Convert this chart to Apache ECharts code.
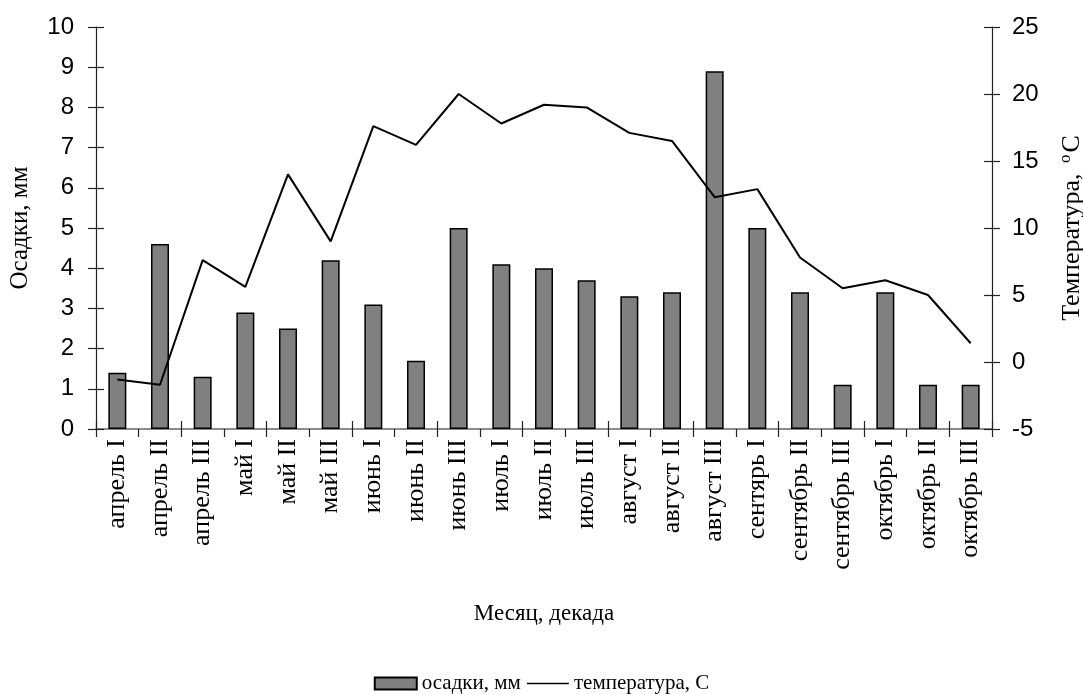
<!DOCTYPE html>
<html>
<head>
<meta charset="utf-8">
<script src="https://cdn.jsdelivr.net/npm/echarts@6/dist/echarts.min.js"></script>
<style>
  html, body { margin: 0; padding: 0; background: #ffffff; }
  #chart { width: 1083px; height: 695px; }
</style>
</head>
<body>
<div id="chart"></div>
<script>
// Декады вегетационного периода
const decades = [
  'апрель I', 'апрель II', 'апрель III',
  'май I', 'май II', 'май III',
  'июнь I', 'июнь II', 'июнь III',
  'июль I', 'июль II', 'июль III',
  'август I', 'август II', 'август III',
  'сентярь I', 'сентябрь II', 'сентябрь III',
  'октябрь I', 'октябрь II', 'октябрь III'
];

// Осадки за декаду, мм
const precipitation = [
  1.4, 4.6, 1.3,
  2.9, 2.5, 4.2,
  3.1, 1.7, 5.0,
  4.1, 4.0, 3.7,
  3.3, 3.4, 8.9,
  5.0, 3.4, 1.1,
  3.4, 1.1, 1.1
];

// Средняя температура воздуха за декаду, °C
const temperature = [
  -1.3, -1.7, 7.6,
  5.6, 14.0, 9.0,
  17.6, 16.2, 20.0,
  17.8, 19.2, 19.0,
  17.1, 16.5, 12.3,
  12.9, 7.8, 5.5,
  6.1, 5.0, 1.4
];

// Шкалы осей
const precipScale = { min: 0, max: 10, step: 1 };
const tempScale = { min: -5, max: 25, step: 5 };

const serif = '"Liberation Serif", "Times New Roman", serif';
const sans = '"Liberation Sans", Arial, sans-serif';
const axisColor = '#222';

// Значок линии в легенде: тонкая горизонтальная полоса в рамке 42×12
const lineIcon = 'path://M0,0L0.01,0L0,0.01Z M0,5.2H42V6.8H0Z M0,12L0.01,12L0,11.99Z';

const chart = echarts.init(document.getElementById('chart'), null, { renderer: 'canvas' });

// Засечки, пересекающие ось, рисуются парой осей: внешние и внутренние
function valueAxis(pos, scale, labelMargin, extra) {
  return Object.assign({
    type: 'value',
    position: pos,
    min: scale.min,
    max: scale.max,
    interval: scale.step,
    splitLine: { show: false },
    axisLine: { show: true, onZero: false, lineStyle: { color: axisColor, width: 1.2 } },
    axisTick: { show: true, inside: false, length: 8, lineStyle: { color: axisColor, width: 1.2 } },
    axisLabel: { show: true, color: '#000', fontFamily: sans, fontSize: 24, margin: labelMargin }
  }, extra || {});
}

function innerTicks(pos, scale) {
  return {
    type: 'value',
    position: pos,
    min: scale.min,
    max: scale.max,
    interval: scale.step,
    splitLine: { show: false },
    axisLine: { show: false },
    axisTick: { show: true, inside: true, length: 8, lineStyle: { color: axisColor, width: 1.2 } },
    axisLabel: { show: false }
  };
}

const option = {
  animation: false,
  backgroundColor: '#ffffff',
  grid: {
    left: 96, right: 91, top: 27, bottom: 266,
    containLabel: false,
    outerBoundsMode: 'none'
  },
  legend: {
    bottom: -4,
    left: 'center',
    itemGap: 6,
    itemWidth: 42,
    itemHeight: 12,
    textStyle: { fontFamily: serif, fontSize: 21, color: '#000' },
    data: [
      { name: 'осадки, мм', icon: 'rect' },
      { name: 'температура, С', icon: lineIcon }
    ]
  },
  xAxis: [
    {
      type: 'category',
      data: decades,
      position: 'bottom',
      boundaryGap: true,
      name: 'Месяц, декада',
      nameLocation: 'middle',
      nameGap: 173,
      nameTextStyle: { fontFamily: serif, fontSize: 23, color: '#000' },
      axisLine: { show: true, onZero: false, lineStyle: { color: '#666', width: 1.5 } },
      axisTick: { show: true, inside: false, length: 8, lineStyle: { color: axisColor, width: 1.2 } },
      axisLabel: { rotate: 90, interval: 0, margin: 10, fontFamily: serif, fontSize: 26, color: '#000' },
      splitLine: { show: false }
    },
    {
      type: 'category',
      data: decades,
      position: 'bottom',
      boundaryGap: true,
      axisLine: { show: false },
      axisTick: { show: true, inside: true, length: 8, lineStyle: { color: axisColor, width: 1.2 } },
      axisLabel: { show: false },
      splitLine: { show: false }
    }
  ],
  yAxis: [
    valueAxis('left', precipScale, 22, {
      name: 'Осадки, мм',
      nameLocation: 'middle',
      nameRotate: 90,
      nameGap: 63,
      nameTextStyle: { fontFamily: serif, fontSize: 25, color: '#000' }
    }),
    valueAxis('right', tempScale, 20, {
      name: 'Температура, {sup|o}C',
      nameLocation: 'middle',
      nameRotate: 90,
      nameGap: 65,
      nameTextStyle: {
        fontFamily: serif, fontSize: 26, color: '#000',
        rich: {
          sup: { fontFamily: serif, fontSize: 17, color: '#000', padding: [0, 2, 14, 4] }
        }
      }
    }),
    innerTicks('left', precipScale),
    innerTicks('right', tempScale)
  ],
  series: [
    {
      name: 'осадки, мм',
      type: 'bar',
      xAxisIndex: 0,
      yAxisIndex: 0,
      data: precipitation,
      barWidth: 18,
      itemStyle: { color: '#808080', borderColor: '#000', borderWidth: 1.5 }
    },
    {
      name: 'температура, С',
      type: 'line',
      xAxisIndex: 0,
      yAxisIndex: 1,
      data: temperature,
      symbol: 'none',
      showSymbol: false,
      lineStyle: { color: '#000', width: 2 },
      itemStyle: { color: '#000' },
      z: 5
    }
  ]
};

chart.setOption(option);
</script>
</body>
</html>
